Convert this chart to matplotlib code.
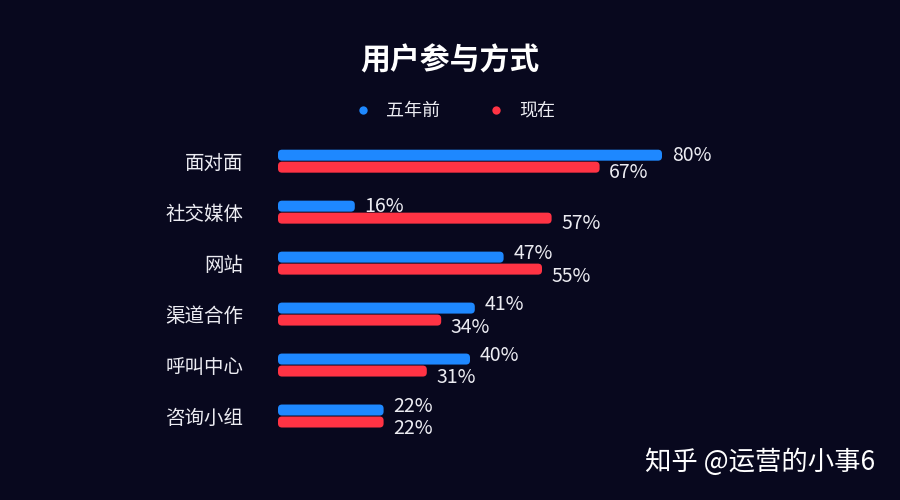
import matplotlib
matplotlib.use("Agg")
import matplotlib.pyplot as plt
from matplotlib.patches import FancyBboxPatch
from matplotlib.lines import Line2D

plt.rcParams['font.family'] = ['Noto Sans CJK SC', 'DejaVu Sans']

# data
categories = ["面对面", "社交媒体", "网站", "渠道合作", "呼叫中心", "咨询小组"]
before = [80, 16, 47, 41, 40, 22]   # 五年前
now = [67, 57, 55, 34, 31, 22]      # 现在
series_names = ["五年前", "现在"]

bg = "#08081e"
blue = "#1e88ff"
red = "#ff3344"
txt = "#ececf2"

fig = plt.figure(figsize=(9, 5), dpi=100, facecolor=bg)
ax = fig.add_axes([278 / 900, 1 - 446.6 / 500, 480 / 900, 316 / 500])
ax.set_facecolor(bg)
ax.set_xlim(0, 100)
ax.set_ylim(5.6, -0.6)

# pixel scale -> rounding aspect
px_x = 4.8
px_y = 51.0
bar_h = 11 / px_y
off = 6 / px_y
r = 4 / px_x

for i, (b, n) in enumerate(zip(before, now)):
    # labels close together -> push them apart
    close = abs(b - n) < 10
    dy_b = 2.5 if close else -0.5
    dy_n = -5 if close else -4
    for val, yc, col, dy in [(b, i - off, blue, dy_b), (n, i + off, red, dy_n)]:
        p = FancyBboxPatch((0, yc - bar_h / 2), val, bar_h,
                           boxstyle="round,pad=0,rounding_size=%g" % r,
                           mutation_aspect=px_x / px_y,
                           facecolor=col, edgecolor="none")
        ax.add_patch(p)
        ax.annotate("%d%%" % val, (val, yc), xytext=(7, dy),
                    textcoords="offset points", va="center", ha="left",
                    color=txt, fontsize=14)

ax.set_yticks(range(len(categories)))
ax.set_yticklabels(categories, color=txt, fontsize=14)
ax.tick_params(axis="y", length=0, pad=25)
ax.set_xticks([])
for s in ax.spines.values():
    s.set_visible(False)

fig.text(0.5, 1 - 60 / 500, "用户参与方式", ha="center", va="center",
         color="white", fontsize=21.5, fontweight="bold")

handles = [Line2D([], [], marker="o", linestyle="none", markersize=6,
                  color=c, markeredgewidth=0) for c in (blue, red)]
leg = fig.legend(handles, series_names, loc="center",
                 bbox_to_anchor=(0.5, 1 - 111 / 500), ncol=2, frameon=False,
                 handletextpad=0.3, columnspacing=2.1, fontsize=13,
                 labelcolor=txt)

fig.text(875 / 900, 1 - 462 / 500, "知乎 @运营的小事6", ha="right",
         va="center", color="white", fontsize=19)

fig.savefig("out.png", dpi=100, facecolor=bg)
